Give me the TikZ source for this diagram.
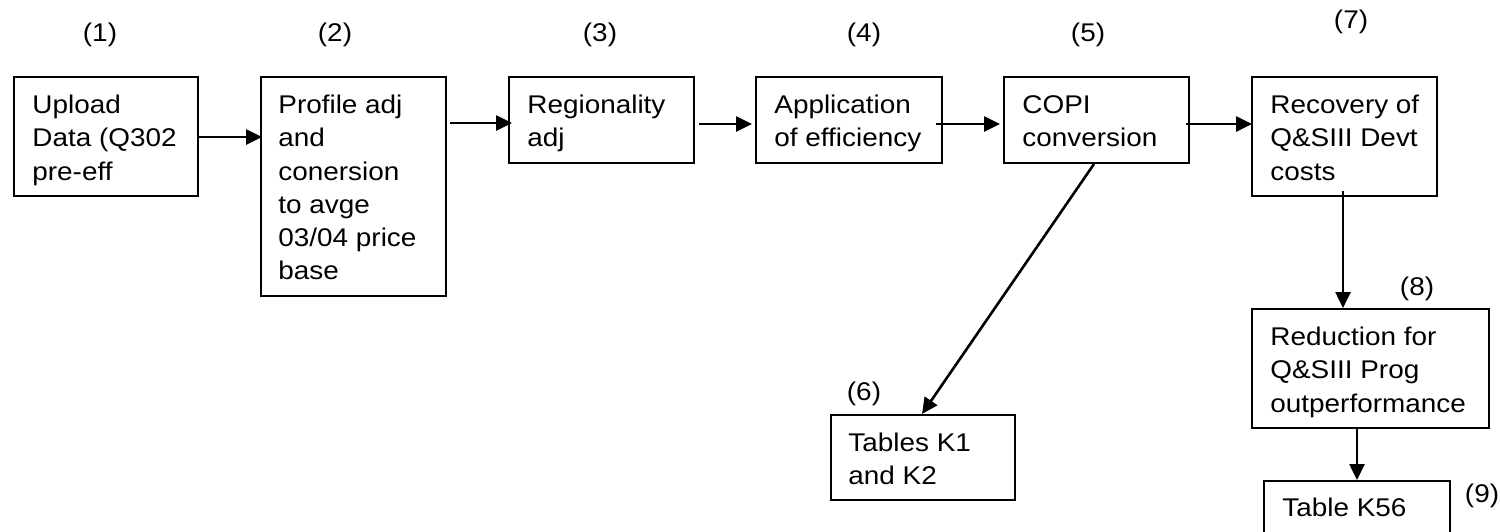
\documentclass[tikz,border=0pt]{standalone}
\usepackage{fontspec}
\setmainfont{Liberation Sans}[FakeStretch=1.09]
\usetikzlibrary{arrows.meta,calc}

\tikzset{
  px/.style={x=0.5pt,y=-0.5pt},
  procbox/.style={draw=black,line width=1pt,rectangle,inner sep=0pt,anchor=north west},
  boxtext/.style={anchor=north west,inner sep=0pt,align=left,
    font=\fontsize{12.8}{16.65}\selectfont},
  steplabel/.style={anchor=base,inner sep=0pt,font=\fontsize{12.8}{16.65}\selectfont},
  arr/.style={line width=1.3pt,-{Triangle[length=8pt,width=7.5pt]}}
}
\newcommand{\firstline}{\rule{0pt}{10pt}}

\begin{document}
\begin{tikzpicture}[px]
\clip (0,0) rectangle (1500,531);
\fill[white] (0,0) rectangle (1500,531);

% process boxes
\node[procbox,minimum width=92pt,minimum height=59.5pt]  (b1) at (13,76) {};
\node[procbox,minimum width=92.5pt,minimum height=109.5pt] (b2) at (260,76) {};
\node[procbox,minimum width=92.5pt,minimum height=43pt]  (b3) at (508,76) {};
\node[procbox,minimum width=93pt,minimum height=43pt]    (b4) at (755,76) {};
\node[procbox,minimum width=92.5pt,minimum height=43pt]  (b5) at (1003,76) {};
\node[procbox,minimum width=92.5pt,minimum height=59.5pt] (b7) at (1251,76) {};
\node[procbox,minimum width=118.5pt,minimum height=59.5pt] (b8) at (1251,308) {};
\node[procbox,minimum width=92pt,minimum height=42.5pt]  (b6) at (830,414) {};
\node[procbox,minimum width=93pt,minimum height=45pt]    (b9) at (1263,480) {};

% box texts
\node[boxtext] (t1) at ($(b1.north west)+(19,17)$) {\firstline Upload\\Data (Q302\\pre-eff};
\node[boxtext] (t2) at ($(b2.north west)+(18,17)$) {\firstline Profile adj\\and\\conersion\\to avge\\03/04 price\\base};
\node[boxtext] (t3) at ($(b3.north west)+(19,17)$) {\firstline Regionality\\adj};
\node[boxtext] (t4) at ($(b4.north west)+(19,17)$) {\firstline Application\\of efficiency};
\node[boxtext] (t5) at ($(b5.north west)+(19,17)$) {\firstline COPI\\conversion};
\node[boxtext] (t7) at ($(b7.north west)+(19,17)$) {\firstline Recovery of\\Q\&SIII Devt\\costs};
\node[boxtext] (t8) at ($(b8.north west)+(19,17)$) {\firstline Reduction for\\Q\&SIII Prog\\outperformance};
\node[boxtext] (t6) at ($(b6.north west)+(18,17)$) {\firstline Tables K1\\and K2};
\node[boxtext] (t9) at ($(b9.north west)+(19,16)$) {\firstline Table K56};

% step numbers
\node[steplabel] (n1) at (100,41.5) {(1)};
\node[steplabel] (n2) at (335,41.5) {(2)};
\node[steplabel] (n3) at (600,41.5) {(3)};
\node[steplabel] (n4) at (864,41.5) {(4)};
\node[steplabel] (n5) at (1088,41.5) {(5)};
\node[steplabel] (n7) at (1351,28) {(7)};
\node[steplabel] (n6) at (864,400) {(6)};
\node[steplabel] (n8) at (1417,295) {(8)};
\node[steplabel] (n9) at (1482,502) {(9)};

% flow arrows
\draw[arr] ($(b1.north east)+(0,61)$) -- ($(b2.north west)+(2,61)$);
\draw[arr] ($(b2.north east)+(3,47)$) -- ($(b3.north west)+(4,47)$);
\draw[arr] ($(b3.north east)+(4,48)$) -- ($(b4.north west)+(-3,48)$);
\draw[arr] ($(b4.north east)+(-7,48)$) -- ($(b5.north west)+(-3,48)$);
\draw[arr] ($(b5.north east)+(-4,48)$) -- ($(b7.north west)+(1,48)$);
\draw[arr] ($(b5.south west)+(91,0)$) -- ($(b6.north west)+(92,0)$);
\draw[arr] ($(b7.south west)+(92,-6)$) -- ($(b8.north west)+(92,0)$);
\draw[arr] ($(b8.south west)+(106,0)$) -- ($(b9.north west)+(94,0)$);
\end{tikzpicture}
\end{document}
